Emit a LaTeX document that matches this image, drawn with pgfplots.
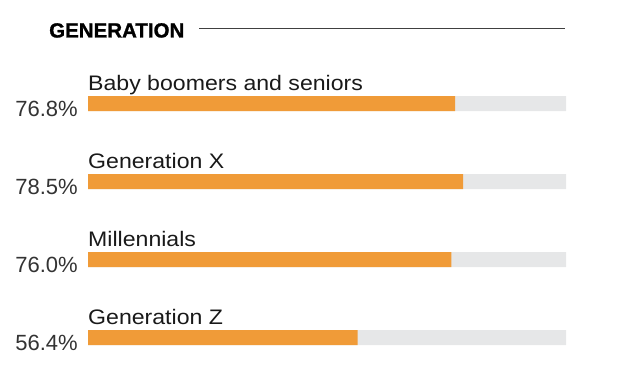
\documentclass[border=0pt]{standalone}
\usepackage{pgfplots}
\pgfplotsset{compat=1.18}
\usepackage{fontspec}
\setmainfont{Liberation Sans}
\newfontfamily\labelfont[FakeStretch=1.1]{Liberation Sans}
\newfontfamily\titlefont[BoldFeatures={FakeBold=1.2}]{Liberation Sans}
\definecolor{barorange}{HTML}{F09B38}
\definecolor{bargrey}{HTML}{E6E7E8}
\definecolor{pctgrey}{HTML}{333333}
\begin{document}
\begin{tikzpicture}[x=1pt,y=1pt]
\path[use as bounding box] (0,0) rectangle (625,376);
\node[anchor=base west, font=\titlefont\fontsize{20.5}{24}\selectfont\bfseries, inner sep=0pt] at (49,338.5) {GENERATION};
\draw[line width=1pt, black!75] (199,348) -- (565,348);
\begin{axis}[at={(88pt,0pt)}, anchor=south west, scale only axis,
  width=478pt, height=376pt, xmin=0, xmax=100,
  ymin=-0.49359, ymax=4.32692,
  axis lines=none, xtick=\empty, ytick=\empty,
  xbar, bar width=15pt, bar shift=0pt, clip=false]
\addplot[fill=bargrey, draw=none] coordinates {(100,3) (100,2) (100,1) (100,0)};
\addplot[fill=barorange, draw=none] coordinates {(76.8,3) (78.5,2) (76.0,1) (56.4,0)};
\foreach \yy/\lab/\pct in {3/Baby boomers and seniors/76.8\%, 2/Generation X/78.5\%, 1/Millennials/76.0\%, 0/Generation Z/56.4\%}{
  \edef\tmp{\noexpand\node[anchor=base west, inner sep=0pt, yshift=13.5pt, font=\noexpand\labelfont\noexpand\fontsize{21}{24}\noexpand\selectfont, text=black!90] at (axis cs:0,\yy) {\lab};
  \noexpand\node[anchor=base east, inner sep=0pt, yshift=-13.2pt, xshift=-10pt, font=\noexpand\fontsize{22}{26}\noexpand\selectfont, text=pctgrey] at (axis cs:0,\yy) {\pct};}
  \tmp
}
\end{axis}
\end{tikzpicture}
\end{document}
